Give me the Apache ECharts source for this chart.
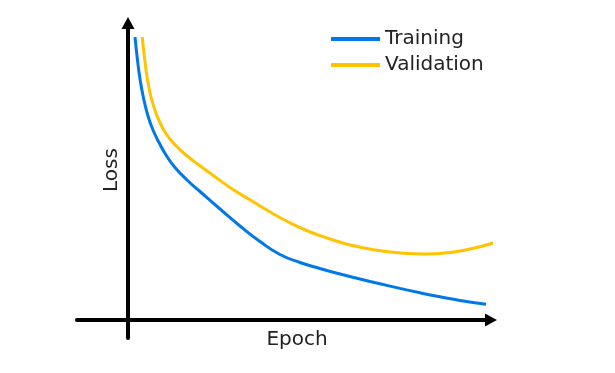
<!DOCTYPE html>
<html>
<head>
<meta charset="utf-8">
<script src="https://cdn.jsdelivr.net/npm/echarts@6/dist/echarts.min.js"></script>
<style>html,body{margin:0;padding:0;background:#fff}#c{width:615px;height:373px}</style>
</head>
<body>
<div id="c"></div>
<script>
const seriesNames = ['Training', 'Validation'];
const trainingLoss = [[2.0,2.83],[2.71,2.60],[3.43,2.41],[4.43,2.22],[5.71,2.04],[7.14,1.90],[8.86,1.775],[10.86,1.65],[13.43,1.525],[16.86,1.40],[20.57,1.285],[26.29,1.11],[32.0,0.94],[37.71,0.785],[43.43,0.655],[49.14,0.575],[54.86,0.515],[60.57,0.46],[66.29,0.41],[72.0,0.362],[77.71,0.316],[83.43,0.272],[89.14,0.232],[94.86,0.196],[102.29,0.157]];
const validationLoss = [[4.07,2.83],[4.79,2.60],[5.5,2.42],[6.36,2.26],[7.5,2.12],[8.93,1.99],[10.93,1.86],[13.5,1.75],[16.93,1.64],[20.64,1.54],[24.93,1.43],[29.79,1.31],[34.93,1.20],[40.64,1.08],[46.36,0.97],[52.07,0.88],[57.79,0.81],[63.5,0.75],[70.64,0.70],[77.79,0.67],[84.93,0.66],[92.07,0.675],[97.79,0.71],[104.36,0.77]];
const xTitle = 'Epoch';
const yTitle = 'Loss';

const FONT = '"DejaVu Sans", sans-serif';
const chart = echarts.init(document.getElementById('c'), null, {renderer: 'canvas'});
chart.setOption({
  animation: false,
  backgroundColor: '#fff',
  grid: {left: 77, right: 615 - 491, top: 23, bottom: 373 - 338, containLabel: false},
  xAxis: {
    type: 'value', min: -14.571, max: 103.714,
    axisLine: {onZero: true, symbol: ['none', 'triangle'], symbolSize: [13, 12], lineStyle: {color: '#000', width: 4}},
    axisTick: {show: false}, axisLabel: {show: false}, splitLine: {show: false}
  },
  yAxis: {
    type: 'value', min: -0.18, max: 2.97,
    axisLine: {show: true, onZero: true, symbol: ['none', 'triangle'], symbolSize: [13, 12], lineStyle: {color: '#000', width: 4}},
    axisTick: {show: false}, axisLabel: {show: false}, splitLine: {show: false}
  },
  legend: {
    orient: 'vertical', left: 326, top: 24, itemGap: 6,
    icon: 'rect', itemWidth: 49, itemHeight: 4,
    textStyle: {fontFamily: FONT, fontSize: 20, color: '#222'},
    data: seriesNames
  },
  graphic: [
    {type: 'text', x: 112, y: 170, rotation: Math.PI / 2, style: {text: yTitle, fontFamily: FONT, fontSize: 20, fill: '#222', textAlign: 'center', textVerticalAlign: 'middle'}},
    {type: 'text', x: 297, y: 340, style: {text: xTitle, fontFamily: FONT, fontSize: 20, fill: '#222', textAlign: 'center', textVerticalAlign: 'middle'}}
  ],
  series: [
    {name: seriesNames[0], type: 'line', data: trainingLoss, smooth: 0.5, showSymbol: false, clip: false, lineStyle: {width: 3, color: '#0078E8'}, itemStyle: {color: '#0078E8'}},
    {name: seriesNames[1], type: 'line', data: validationLoss, smooth: 0.5, showSymbol: false, clip: false, lineStyle: {width: 3, color: '#FFC300'}, itemStyle: {color: '#FFC300'}}
  ]
});
</script>
</body>
</html>
